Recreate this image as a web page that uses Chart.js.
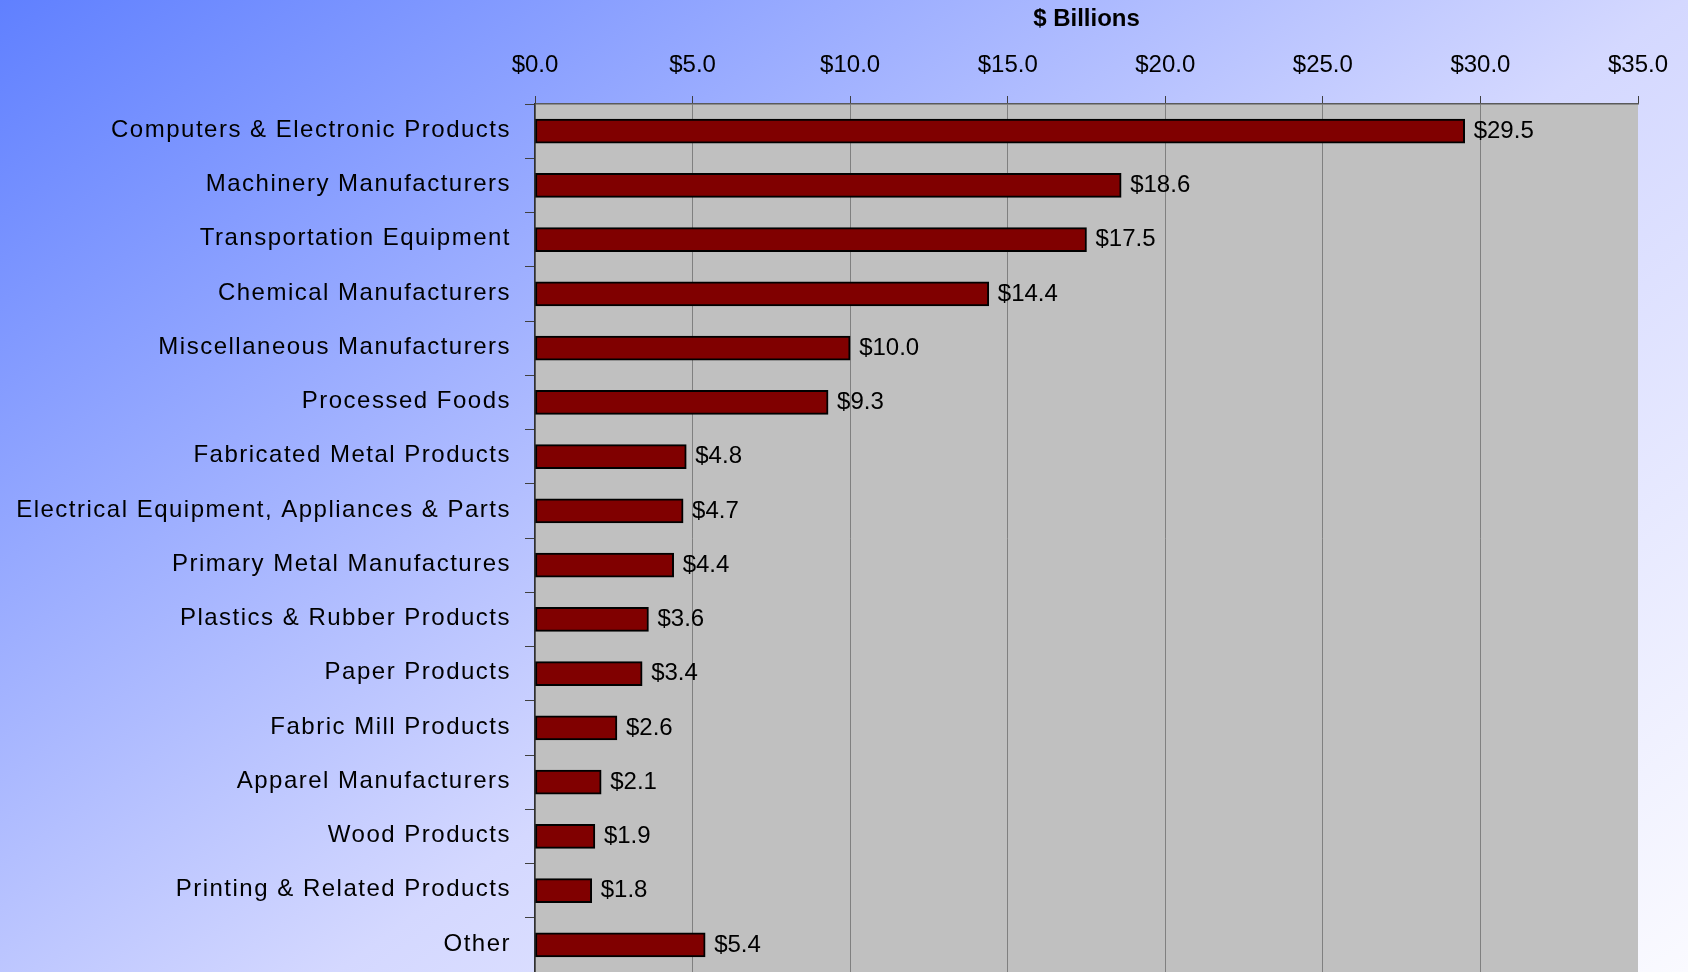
<!DOCTYPE html>
<html>
<head>
<meta charset="utf-8">
<title>Manufacturing by sector</title>
<script src="https://cdn.jsdelivr.net/npm/chart.js@4.4.1/dist/chart.umd.min.js"></script>
<style>
  html, body { margin: 0; padding: 0; background: #fafaff; }
  canvas { display: block; }
</style>
</head>
<body>
<canvas id="chart" width="1688" height="972"></canvas>
<script>
// categories, top to bottom
const sectors = [
  'Computers & Electronic Products',
  'Machinery Manufacturers',
  'Transportation Equipment',
  'Chemical Manufacturers',
  'Miscellaneous Manufacturers',
  'Processed Foods',
  'Fabricated Metal Products',
  'Electrical Equipment, Appliances & Parts',
  'Primary Metal Manufactures',
  'Plastics & Rubber Products',
  'Paper Products',
  'Fabric Mill Products',
  'Apparel Manufacturers',
  'Wood Products',
  'Printing & Related Products',
  'Other'
];

// $ billions
const values = [29.5, 18.6, 17.5, 14.4, 10.0, 9.3, 4.8, 4.7, 4.4, 3.6, 3.4, 2.6, 2.1, 1.9, 1.8, 5.4];

const axisMin = 0;
const axisMax = 35;
const axisStep = 5;
const axisTitle = '$ Billions';

const FONT = '"Liberation Sans", Arial, sans-serif';
const money = v => '$' + Number(v).toFixed(1);

// blue-to-white page background, then the grey plot area
const backdrop = {
  id: 'backdrop',
  beforeDraw(chart) {
    const { ctx, width, height, chartArea: a } = chart;
    ctx.save();
    const g = ctx.createLinearGradient(0, 0, 1037, 1440);
    g.addColorStop(0, '#6080ff');
    g.addColorStop(0.555, '#d4d8ff');
    g.addColorStop(1, '#fafaff');
    ctx.fillStyle = g;
    ctx.fillRect(0, 0, width, height);
    ctx.fillStyle = '#c0c0c0';
    ctx.fillRect(a.left, a.top, a.right - a.left, a.bottom - a.top);
    ctx.restore();
  }
};

// category names, drawn by hand so the letter spacing can be widened a bit
const catLabels = {
  id: 'catLabels',
  afterDraw(chart) {
    const { ctx } = chart;
    const y = chart.scales.y;
    ctx.save();
    ctx.font = '24px ' + FONT;
    ctx.letterSpacing = '1.5px';
    ctx.fillStyle = '#000';
    ctx.textAlign = 'right';
    ctx.textBaseline = 'middle';
    sectors.forEach((s, i) => {
      ctx.fillText(s, y.right - 24, y.getPixelForValue(i) - 1);
    });
    ctx.restore();
  }
};

// value labels at the end of each bar
const valueLabels = {
  id: 'valueLabels',
  afterDatasetsDraw(chart) {
    const { ctx } = chart;
    const meta = chart.getDatasetMeta(0);
    ctx.save();
    ctx.font = '24px ' + FONT;
    ctx.fillStyle = '#000';
    ctx.textAlign = 'left';
    ctx.textBaseline = 'middle';
    meta.data.forEach((bar, i) => {
      ctx.fillText(money(values[i]), bar.x + 9, bar.y);
    });
    ctx.restore();
  }
};

new Chart(document.getElementById('chart'), {
  type: 'bar',
  data: {
    labels: sectors,
    datasets: [{
      data: values,
      backgroundColor: '#800000',
      borderColor: '#000000',
      borderWidth: 2,
      borderSkipped: false,
      barThickness: 24
    }]
  },
  options: {
    indexAxis: 'y',
    responsive: false,
    animation: false,
    devicePixelRatio: 1,
    layout: { padding: { left: 0, right: 50, top: 0, bottom: 0 } },
    plugins: {
      legend: { display: false },
      tooltip: { enabled: false }
    },
    scales: {
      x: {
        position: 'top',
        min: axisMin,
        max: axisMax,
        afterFit(scale) { scale.height = 104; },
        ticks: {
          stepSize: axisStep,
          padding: 16,
          color: '#000',
          font: { family: FONT, size: 24 },
          callback: v => money(v)
        },
        grid: {
          color: ctx => (ctx.tick && ctx.tick.value === axisMax ? 'rgba(0,0,0,0)' : '#808080'),
          tickColor: '#404040',
          lineWidth: 1,
          tickLength: 8
        },
        border: { display: true, color: '#5a5a5a', width: 1.5 },
        title: {
          display: true,
          text: axisTitle,
          color: '#000',
          font: { family: FONT, size: 24, weight: 'bold' },
          padding: { top: 5, bottom: 0 }
        }
      },
      y: {
        afterFit(scale) { scale.width = 535; },
        ticks: { display: false },
        grid: {
          drawOnChartArea: false,
          offset: true,
          tickColor: '#404040',
          tickLength: 10
        },
        border: { display: true, color: '#303030', width: 1.5 }
      }
    }
  },
  plugins: [backdrop, catLabels, valueLabels]
});
</script>
</body>
</html>
